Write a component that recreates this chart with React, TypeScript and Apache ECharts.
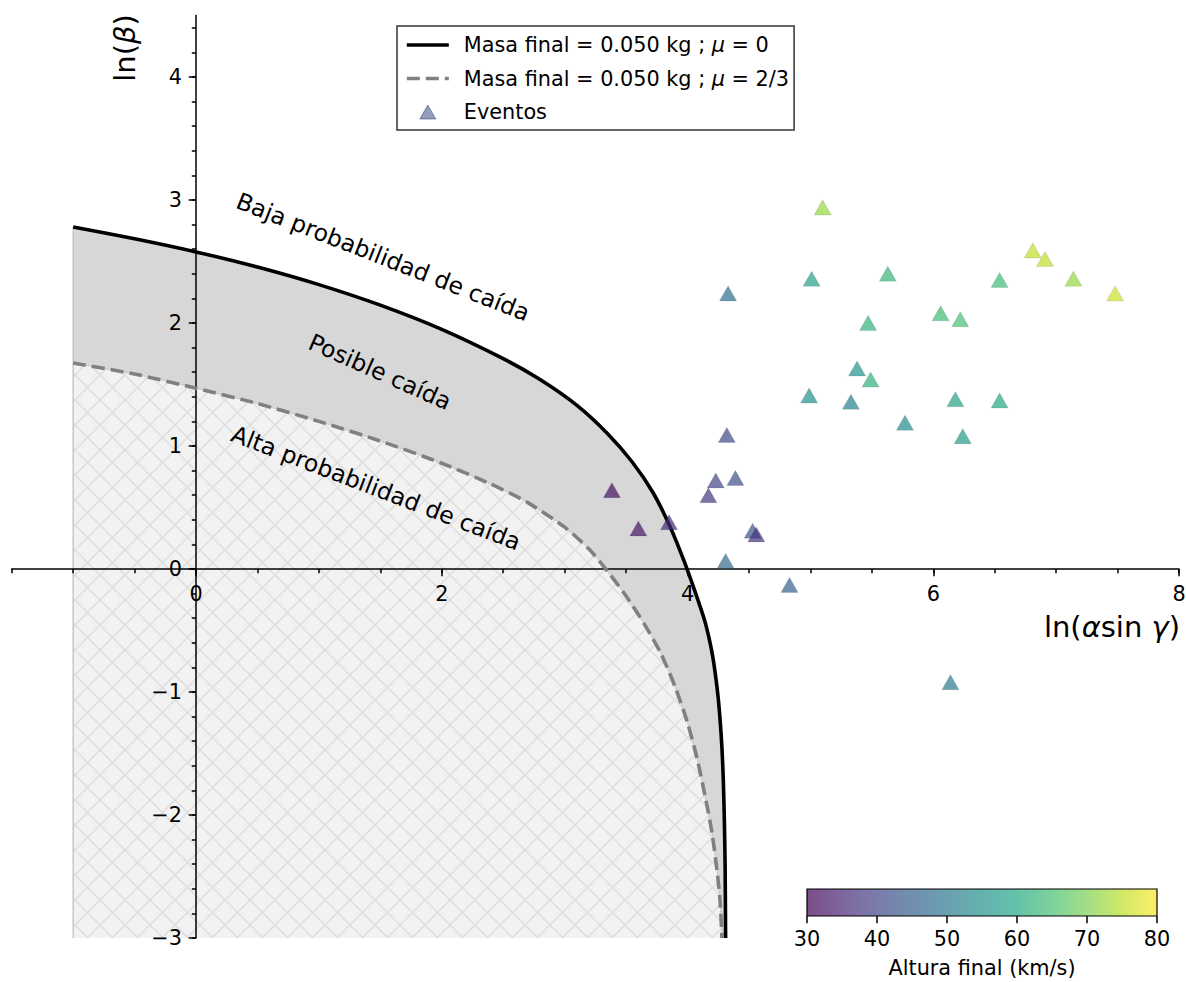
import React, { useEffect, useRef } from 'react';
import * as echarts from 'echarts';

// Curve: final mass 0.050 kg, mu = 0 (solid)
const SOLID_X = [-1, -0.5, 0, 0.5, 1, 1.5, 2, 2.5, 2.8, 3.1, 3.35, 3.55, 3.72, 3.86, 3.97, 4.06, 4.14, 4.175, 4.205, 4.23, 4.25, 4.267, 4.28, 4.291, 4.3, 4.306, 4.31];
const SOLID_Y = [2.78, 2.685, 2.578, 2.455, 2.312, 2.145, 1.948, 1.71, 1.54, 1.33, 1.1, 0.87, 0.62, 0.34, 0.07, -0.18, -0.42, -0.56, -0.71, -0.88, -1.05, -1.25, -1.45, -1.7, -2.05, -2.4, -3];
// Curve: final mass 0.050 kg, mu = 2/3 (dashed)
const DASH_X = [-1, -0.5, 0, 0.5, 1, 1.5, 2, 2.4, 2.7, 3.0, 3.2, 3.35, 3.5, 3.65, 3.78, 3.9, 4.0, 4.08, 4.15, 4.2, 4.24, 4.265, 4.28];
const DASH_Y = [1.675, 1.585, 1.47, 1.345, 1.2, 1.04, 0.86, 0.69, 0.54, 0.34, 0.16, -0.02, -0.22, -0.45, -0.68, -0.96, -1.25, -1.55, -1.88, -2.15, -2.45, -2.7, -3];

// Events
const EVENT_X = [3.385, 3.6, 3.85, 4.32, 4.23, 4.39, 4.17, 4.53, 4.56, 4.31, 4.83, 4.33, 6.14, 5.1, 5.01, 5.63, 6.54, 6.81, 6.91, 7.14, 7.48, 5.47, 6.06, 6.22, 5.38, 5.49, 4.99, 5.33, 6.18, 6.54, 5.77, 6.24];
const EVENT_Y = [0.64, 0.33, 0.38, 1.09, 0.72, 0.74, 0.6, 0.31, 0.28, 0.065, -0.13, 2.24, -0.92, 2.94, 2.36, 2.4, 2.35, 2.59, 2.52, 2.36, 2.24, 2.0, 2.08, 2.03, 1.63, 1.54, 1.41, 1.36, 1.38, 1.37, 1.19, 1.08];
const EVENT_H = [32, 33, 36, 41, 40, 42, 38, 43, 37, 47, 45, 48, 51, 72, 58, 63, 64, 75, 75, 72, 76, 62, 64, 65, 55, 62, 55, 52, 59, 60, 54, 57];

const X_MAJOR = [0, 2, 4, 6, 8];
const Y_MAJOR = [-3, -2, -1, 0, 1, 2, 3, 4];
const X_MIN = -1.5, X_MAX = 8, Y_MIN = -3, Y_MAX = 4.5;
const CB_MIN = 30;
const CB_MAX = 80;

const NAME_MU0 = 'Masa final = 0.050 kg ; μ = 0';
const NAME_MU23 = 'Masa final = 0.050 kg ; μ = 2/3';
const NAME_EV = 'Eventos';

const VIRIDIS = ['#440154', '#482475', '#414487', '#355f8d', '#2a788e', '#21918c', '#22a884', '#44bf70', '#7ad151', '#bddf26', '#fde725'];

const FONT = 'DejaVu Sans';

function hexA(h: string, a: number) {
  const r = parseInt(h.slice(1, 3), 16), g = parseInt(h.slice(3, 5), 16), b = parseInt(h.slice(5, 7), 16);
  return `rgba(${r},${g},${b},${a})`;
}

function minorList(min: number, max: number, step: number) {
  const out: number[] = [];
  const n = Math.round((max - min) / step);
  for (let i = 0; i <= n; i++) out.push(Math.round((min + i * step) * 1000) / 1000);
  return out;
}

const fmt = (v: number) => (v < 0 ? '\u2212' + Math.abs(v) : String(v));

export default function App() {
  const ref = useRef<HTMLDivElement>(null);
  useEffect(() => {
    if (!ref.current) return;
    const chart = echarts.init(ref.current, undefined, { renderer: 'svg' });

    const hatchSvg = '<svg xmlns="http://www.w3.org/2000/svg" width="25" height="25"><rect width="25" height="25" fill="#f2f2f2"/><path d="M0 0L25 25M-3 22L3 28M22 -3L28 3M0 25L25 0M-3 3L3 -3M22 28L28 22" stroke="#dedede" stroke-width="1.5"/></svg>';
    const hatchUrl = 'data:image/svg+xml;charset=utf-8,' + encodeURIComponent(hatchSvg);

    const solid = SOLID_X.map((x, i) => [x, SOLID_Y[i]]);
    const dashed = DASH_X.map((x, i) => [x, DASH_Y[i]]);
    const events = EVENT_X.map((x, i) => [x, EVENT_Y[i], EVENT_H[i]]);

    const cbGradient = new echarts.graphic.LinearGradient(0, 0, 1, 0,
      VIRIDIS.map((c, i) => ({ offset: i / (VIRIDIS.length - 1), color: hexA(c, 0.7) })));

    const tickStyle = { color: '#000', width: 1.5 };
    const labelStyle = { color: '#000', fontSize: 20.8, fontFamily: FONT };

    // plot area geometry (pixels)
    const L = 11.7, R = 7, T = 15.5, B = 44;
    const X0PX = 196; // pixel of x = 0
    const Y0PX = 569; // pixel of y = 0
    const H = 982;
    const SMOOTH = 0.25;

    const gb = { outerBoundsMode: 'none', containLabel: false, show: false };
    const hiddenX = (g: number) => ({ type: 'value', gridIndex: g, min: X_MIN, max: X_MAX, show: false });
    const hiddenY = (g: number) => ({ type: 'value', gridIndex: g, min: Y_MIN, max: Y_MAX, show: false });

    const option: any = {
      animation: false,
      grid: [
        { ...gb, left: L, right: R, top: T, bottom: B },
        { ...gb, left: 807, top: 889, width: 350, height: 27, show: true, backgroundColor: cbGradient, borderColor: '#000', borderWidth: 1.2 },
        { ...gb, left: L, right: R, top: T, bottom: H - Y0PX },
        { ...gb, left: L, right: R, top: T, bottom: H - Y0PX },
        { ...gb, left: X0PX, right: R, top: T, bottom: B },
        { ...gb, left: X0PX, right: R, top: T, bottom: B },
      ],
      xAxis: [
        hiddenX(0),
        {
          type: 'value', gridIndex: 1, min: CB_MIN, max: CB_MAX, interval: 10, position: 'bottom',
          axisLine: { show: false, onZero: false },
          axisTick: { show: true, length: 7.3, lineStyle: tickStyle },
          axisLabel: { ...labelStyle, margin: 12 },
          splitLine: { show: false },
          name: 'Altura final (km/s)', nameLocation: 'middle', nameGap: 41,
          nameTextStyle: { ...labelStyle },
        },
        {
          type: 'value', gridIndex: 2, min: X_MIN, max: X_MAX, interval: 0.5, position: 'bottom', z: 3,
          axisLine: { show: true, onZero: false, lineStyle: { color: '#000', width: 1.5 } },
          axisTick: { show: true, length: 4.2, lineStyle: tickStyle, customValues: minorList(X_MIN, X_MAX, 0.5) },
          axisLabel: { ...labelStyle, margin: 14, customValues: X_MAJOR, formatter: fmt },
          splitLine: { show: false },
        },
        {
          type: 'value', gridIndex: 3, min: X_MIN, max: X_MAX, interval: 0.5, position: 'bottom', z: 3,
          axisLine: { show: false, onZero: false },
          axisTick: { show: true, length: 7.3, lineStyle: tickStyle, customValues: X_MAJOR },
          axisLabel: { show: false },
          splitLine: { show: false },
        },
        hiddenX(4),
        hiddenX(5),
      ],
      yAxis: [
        hiddenY(0),
        { type: 'value', gridIndex: 1, min: 0, max: 1, show: false },
        hiddenY(2),
        hiddenY(3),
        {
          type: 'value', gridIndex: 4, min: Y_MIN, max: Y_MAX, interval: 1, position: 'left', z: 3,
          axisLine: { show: true, onZero: false, lineStyle: { color: '#000', width: 1.5 } },
          axisTick: { show: true, length: 4.2, lineStyle: tickStyle, customValues: minorList(Y_MIN, 4.4, 0.2) },
          axisLabel: { ...labelStyle, margin: 14, customValues: Y_MAJOR, formatter: fmt },
          splitLine: { show: false },
        },
        {
          type: 'value', gridIndex: 5, min: Y_MIN, max: Y_MAX, interval: 1, position: 'left', z: 3,
          axisLine: { show: false, onZero: false },
          axisTick: { show: true, length: 7.3, lineStyle: tickStyle, customValues: Y_MAJOR },
          axisLabel: { show: false },
          splitLine: { show: false },
        },
      ],
      visualMap: {
        type: 'continuous', show: false, seriesIndex: 5, dimension: 2, min: CB_MIN, max: CB_MAX,
        inRange: { color: VIRIDIS, opacity: 0.7 },
      },
      legend: {
        orient: 'vertical', left: 397, top: 26,
        padding: [8, 5, 7, 8], itemGap: 11.5, itemWidth: 42, itemHeight: 14, symbolKeepAspect: true,
        borderColor: '#333', borderWidth: 1.5, backgroundColor: '#fff',
        data: [
          { name: NAME_MU0, itemStyle: { opacity: 0 }, lineStyle: { width: 3.6, color: '#000', type: 'solid' } },
          { name: NAME_MU23, itemStyle: { opacity: 0 }, lineStyle: { width: 3.6, color: '#808080', type: [13, 6] } },
          { name: NAME_EV, icon: 'path://M0,14L8,0L16,14Z', itemStyle: { color: 'rgba(59,82,139,0.7)', borderColor: 'rgba(40,50,110,0.6)', borderWidth: 1 } },
        ],
        formatter: (name: string) => name.replace('μ', '{i|μ}'),
        textStyle: {
          color: '#000', fontSize: 20.8, fontFamily: FONT, lineHeight: 22, padding: [0, 0, 0, 10],
          rich: { i: { fontStyle: 'italic', fontSize: 20.8, fontFamily: FONT, color: '#000' } },
        },
      },
      series: [
        {
          type: 'line', data: solid, xAxisIndex: 0, yAxisIndex: 0, symbol: 'none', silent: true, z: 1,
          smooth: SMOOTH,
          lineStyle: { width: 0 }, areaStyle: { color: '#d7d7d7', opacity: 1, origin: 'start' },
        },
        {
          type: 'line', data: dashed, xAxisIndex: 0, yAxisIndex: 0, symbol: 'none', silent: true, z: 1,
          smooth: SMOOTH,
          lineStyle: { width: 1, color: '#c8c8c8' },
          areaStyle: { color: { image: hatchUrl, repeat: 'repeat', imageWidth: 25, imageHeight: 25 }, opacity: 1, origin: 'start' },
        },
        {
          type: 'line', data: [[SOLID_X[0], Y_MIN], [SOLID_X[0], SOLID_Y[0]]], xAxisIndex: 0, yAxisIndex: 0,
          symbol: 'none', silent: true, z: 1, lineStyle: { width: 1.2, color: '#bdbdbd' },
        },
        {
          name: NAME_MU23, type: 'line', data: dashed, xAxisIndex: 0, yAxisIndex: 0, symbol: 'none', z: 4,
          smooth: SMOOTH, color: '#808080',
          lineStyle: { width: 3.6, color: '#808080', type: [13, 6] },
        },
        {
          name: NAME_MU0, type: 'line', data: solid, xAxisIndex: 0, yAxisIndex: 0, symbol: 'none', z: 4,
          smooth: SMOOTH, color: '#000',
          lineStyle: { width: 3.6, color: '#000' },
        },
        {
          name: NAME_EV, type: 'scatter', data: events, xAxisIndex: 0, yAxisIndex: 0, z: 5,
          symbol: 'triangle', symbolSize: [17, 15],
          itemStyle: { borderColor: 'rgba(0,0,0,0.12)', borderWidth: 1.2 },
        },
      ],
      graphic: {
        elements: [
          {
            type: 'text', x: 383, y: 257, rotation: -21.4 * Math.PI / 180, z: 10,
            style: { text: 'Baja probabilidad de caída', fontSize: 23.5, fontFamily: FONT, fill: '#000', align: 'center', verticalAlign: 'middle' },
          },
          {
            type: 'text', x: 380, y: 372, rotation: -24 * Math.PI / 180, z: 10,
            style: { text: 'Posible caída', fontSize: 23.5, fontFamily: FONT, fill: '#000', align: 'center', verticalAlign: 'middle' },
          },
          {
            type: 'text', x: 376, y: 488, rotation: -21 * Math.PI / 180, z: 10,
            style: { text: 'Alta probabilidad de caída', fontSize: 23.5, fontFamily: FONT, fill: '#000', align: 'center', verticalAlign: 'middle' },
          },
          {
            type: 'text', x: 1180, y: 627, z: 10,
            style: {
              text: '{n|ln(}{i|α}{n|sin }{i|γ}{n|)}', align: 'right', verticalAlign: 'middle',
              rich: {
                n: { fontSize: 29, fontFamily: FONT, fill: '#000' },
                i: { fontSize: 29, fontFamily: FONT, fontStyle: 'italic', fill: '#000' },
              },
            },
          },
          {
            type: 'text', x: 125, y: 48, rotation: Math.PI / 2, z: 10,
            style: {
              text: '{n|ln(}{i|β}{n|)}', align: 'center', verticalAlign: 'middle',
              rich: {
                n: { fontSize: 29, fontFamily: FONT, fill: '#000' },
                i: { fontSize: 29, fontFamily: FONT, fontStyle: 'italic', fill: '#000' },
              },
            },
          },
        ],
      },
    };

    chart.setOption(option);
    return () => chart.dispose();
  }, []);

  return <div ref={ref} style={{ position: 'absolute', left: 0, top: 0, width: 1186, height: 982, background: '#fff' }} />;
}
